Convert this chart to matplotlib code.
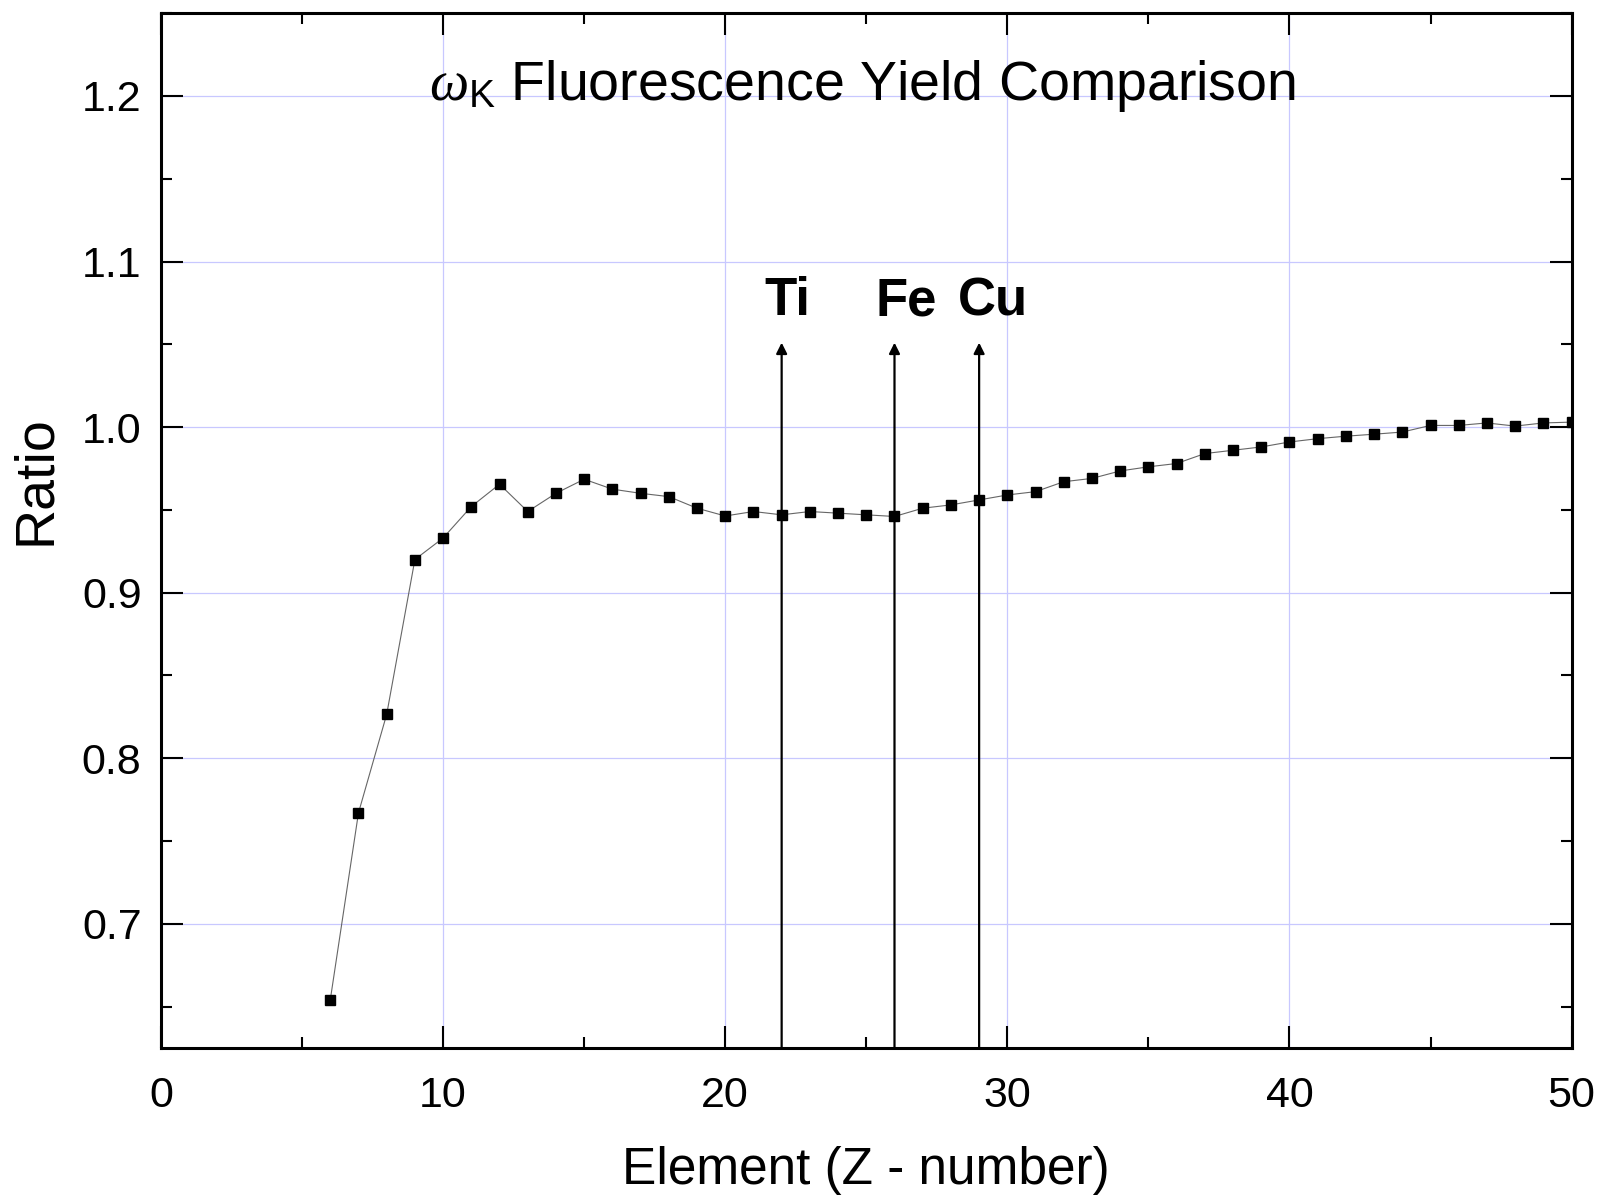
import numpy as np
import matplotlib
matplotlib.use("Agg")
import matplotlib.pyplot as plt
from matplotlib.ticker import MultipleLocator

plt.rcParams["font.family"] = ["Liberation Sans", "DejaVu Sans"]
plt.rcParams["mathtext.fontset"] = "custom"
plt.rcParams["mathtext.rm"] = "Liberation Sans"
plt.rcParams["mathtext.it"] = "Liberation Serif:italic"

# Data
z_numbers = list(range(6, 51))
ratio = [
    0.654, 0.767, 0.8265, 0.920, 0.933, 0.952, 0.9655, 0.949, 0.960, 0.9685,
    0.9625, 0.960, 0.958, 0.951, 0.9463, 0.949, 0.947, 0.949, 0.948, 0.947,
    0.946, 0.951, 0.953, 0.956, 0.959, 0.961, 0.967, 0.969, 0.9735, 0.976,
    0.978, 0.984, 0.986, 0.988, 0.991, 0.993, 0.9945, 0.9957, 0.997, 1.001,
    1.001, 1.0025, 1.0006, 1.0025, 1.003,
]

marked_z = [22, 26, 29]
marked_names = ["Ti", "Fe", "Cu"]
arrow_top = 1.051

x_ticks = [0, 10, 20, 30, 40, 50]
y_ticks = [0.7, 0.8, 0.9, 1.0, 1.1, 1.2]
ymin, ymax = 0.625, 1.25

fig = plt.figure(figsize=(16.02, 11.99), dpi=100)
ax = fig.add_axes([0.1005, 0.126, 0.8805, 0.863])

ax.plot(z_numbers, ratio, color="#666666", linewidth=0.8, zorder=3)
ax.plot(z_numbers, ratio, linestyle="none", marker="s", markersize=7,
        color="black", zorder=4)

# small nudges so the labels sit where they do in the original
label_offsets = [0.2, 0.4, 0.5]
for z, name, off in zip(marked_z, marked_names, label_offsets):
    ax.annotate("", xy=(z, arrow_top), xytext=(z, ymin),
                arrowprops=dict(arrowstyle="-|>", color="black", lw=1.6,
                                mutation_scale=16, shrinkA=0, shrinkB=0),
                zorder=5)
    ax.text(z + off, arrow_top + 0.025, name, fontsize=38, fontweight="bold",
            ha="center", va="center")

ax.text(0.497, 0.93, r"$\omega_{\mathrm{K}}$ Fluorescence Yield Comparison",
        transform=ax.transAxes, fontsize=40, ha="center", va="center")

ax.set_xlim(0, 50)
ax.set_ylim(ymin, ymax)
ax.set_xticks(x_ticks)
ax.set_yticks(y_ticks)
ax.set_yticklabels([f"{v:.1f}" for v in y_ticks])
ax.xaxis.set_minor_locator(MultipleLocator(5))
ax.yaxis.set_minor_locator(MultipleLocator(0.05))

ax.grid(True, which="major", color="#c8c8ff", linewidth=0.9)
ax.set_axisbelow(True)

ax.tick_params(which="both", direction="in", top=True, right=True,
               labelsize=31, width=1.5, color="black")
ax.tick_params(which="major", length=16)
ax.tick_params(axis="x", which="major", pad=20)
ax.tick_params(axis="y", which="major", pad=14)
ax.tick_params(which="minor", length=8)
for sp in ax.spines.values():
    sp.set_linewidth(2.2)

ax.set_xlabel("Element (Z - number)", fontsize=37, labelpad=22)
ax.set_ylabel("Ratio", fontsize=40)
ax.yaxis.set_label_coords(-0.0705, 0.549)

fig.savefig("out.png", dpi=100)
